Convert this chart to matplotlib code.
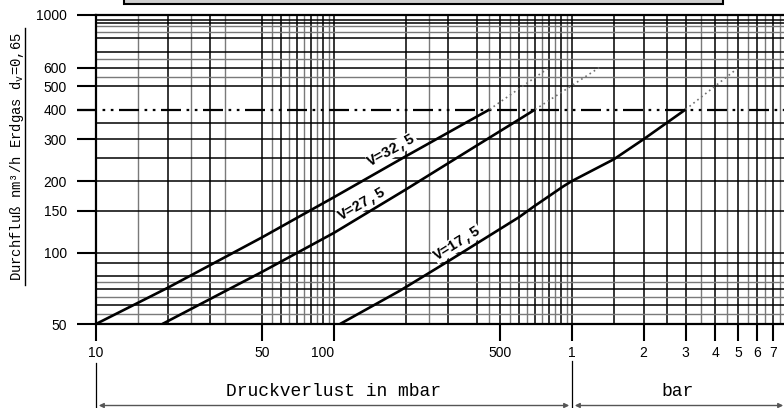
import matplotlib
matplotlib.use("Agg")
import matplotlib.pyplot as plt
from matplotlib.patches import Rectangle, FancyArrowPatch
from matplotlib.lines import Line2D
import matplotlib.transforms as mtransforms

# ---------------- data ----------------
v325_x = [10, 20, 50, 100, 200, 450]
v325_y = [50, 71, 116, 171, 254, 400]
v325_dot_x = [450, 800]
v325_dot_y = [400, 600]

v275_x = [19, 50, 100, 200, 400, 700]
v275_y = [50, 83, 121, 184, 283, 400]
v275_dot_x = [700, 1300]
v275_dot_y = [400, 600]

v175_x = [106, 189, 300, 600, 690, 920, 1000, 1500, 2000, 3000]
v175_y = [50, 69, 91.5, 141, 156, 190, 200, 247, 300, 400]
v175_dot_x = [3000, 5000]
v175_dot_y = [400, 600]

curve_labels = ["V=32,5", "V=27,5", "V=17,5"]

xtick_vals = [10, 50, 100, 500, 1000, 2000, 3000, 4000, 5000, 6000, 7000]
xtick_labels = ["10", "50", "100", "500", "1", "2", "3", "4", "5", "6", "7"]
ytick_vals = [50, 100, 150, 200, 300, 400, 500, 600, 1000]
ytick_labels = ["50", "100", "150", "200", "300", "400", "500", "600", "1000"]

grid_x_dark = [20, 30, 50, 60, 70, 80, 90, 100, 200, 300, 400, 500, 600, 700,
               800, 900, 1000, 1500, 2000, 2500, 3000, 4000, 5000, 6000, 7000]
grid_x_light = [15, 25, 35, 55, 65, 75, 85, 95, 250, 450, 550, 650, 750, 850,
                950, 3500, 4500, 5500, 6500, 7500]
grid_y_dark = [60, 70, 80, 90, 100, 150, 200, 250, 300, 350, 500, 600, 700,
               800, 925, 950]
grid_y_light = [55, 65, 75, 550, 650, 850, 900]
ref_line_y = 400

ylabel = "Durchfluß nm³/h Erdgas d$_\\mathregular{v}$=0,65"
xlabel_mbar = "Druckverlust in mbar"
xlabel_bar = "bar"

# ---------------- figure ----------------
W, H = 784, 408
fig = plt.figure(figsize=(W / 100, H / 100), dpi=100)
fig.patch.set_facecolor("white")


def px(x, y):
    return (x / W, 1 - y / H)


ax = fig.add_axes([96 / W, 1 - 324 / H, 1 - 96 / W, (324 - 15) / H])
ax.set_xscale("log")
ax.set_yscale("log")
ax.set_xlim(10, 10 ** (1 + 688 / 238))
ax.set_ylim(50, 1000)

for v in grid_x_dark:
    ax.axvline(v, color="black", lw=1.1, zorder=1)
for v in grid_x_light:
    ax.axvline(v, color="#7a7a7a", lw=1.0, zorder=1)
for v in grid_y_dark:
    ax.axhline(v, color="black", lw=1.1, zorder=1)
for v in grid_y_light:
    ax.axhline(v, color="#7a7a7a", lw=1.0, zorder=1)

# dash-dot reference line at 400 (extends over the tick area)
trans = mtransforms.blended_transform_factory(ax.transAxes, ax.transData)
ax.plot([-19 / 688, 1], [ref_line_y, ref_line_y], transform=trans, color="black",
        lw=1.6, ls=(0, (9, 2.5, 1.2, 2.5, 1.2, 2.5)), clip_on=False, zorder=2)

# curves
for xs, ys in [(v325_x, v325_y), (v275_x, v275_y), (v175_x, v175_y)]:
    ax.plot(xs, ys, color="black", lw=1.9, zorder=4, solid_capstyle="butt",
            solid_joinstyle="round")
for xs, ys in [(v325_dot_x, v325_dot_y), (v275_dot_x, v275_dot_y),
               (v175_dot_x, v175_dot_y)]:
    ax.plot(xs, ys, color="#707070", lw=1.2, ls=(0, (1, 2)), zorder=2)

label_pos = [(175, 270, 29), (131, 161, 30), (329, 109, 32)]
for txt, (lx, ly, rot) in zip(curve_labels, label_pos):
    ax.text(lx, ly, txt, rotation=rot, ha="center", va="center",
            fontsize=10.5, fontweight="bold", family=["Liberation Mono", "DejaVu Sans Mono"],
            bbox=dict(facecolor="white", edgecolor="none", pad=0.5), zorder=3)

# ticks
ax.set_xticks(xtick_vals)
ax.set_xticklabels(xtick_labels)
ax.set_yticks(ytick_vals)
ax.set_yticklabels(ytick_labels)
ax.xaxis.set_minor_locator(matplotlib.ticker.NullLocator())
ax.yaxis.set_minor_locator(matplotlib.ticker.NullLocator())
ax.tick_params(axis="x", length=12, width=1.5, pad=4, labelsize=10)
ax.tick_params(axis="y", length=14, width=1.5, pad=7, labelsize=10)
for lab in ax.get_xticklabels() + ax.get_yticklabels():
    lab.set_family(["Liberation Sans", "DejaVu Sans"])
ax.get_xticklabels()[2].set_horizontalalignment("right")

for side in ["left", "bottom", "top"]:
    ax.spines[side].set_linewidth(1.6)
    ax.spines[side].set_zorder(5)
ax.spines["right"].set_visible(False)

# y label with underline
fig.text(*px(17, 157), ylabel, rotation=90, ha="center", va="center",
         fontsize=10, family=["Liberation Mono", "DejaVu Sans Mono"])
fig.add_artist(Line2D([25 / W, 25 / W], [1 - 285 / H, 1 - 28 / H], color="black", lw=1.0))

# bottom dimension lines
fig.add_artist(Line2D([96 / W, 96 / W], [1 - 363 / H, 0], color="black", lw=0.9))
fig.add_artist(Line2D([572 / W, 572 / W], [1 - 361 / H, 0], color="black", lw=0.9))
fig.add_artist(FancyArrowPatch(px(96, 405.5), px(572, 405.5), transform=fig.transFigure,
                               arrowstyle="<|-|>", mutation_scale=7, color="#555555", lw=1.0))
fig.add_artist(FancyArrowPatch(px(572, 405.5), px(786, 405.5), transform=fig.transFigure,
                               arrowstyle="<|-|>", mutation_scale=7, color="#555555", lw=1.0))
fig.text(*px(334, 392), xlabel_mbar, ha="center", va="center", fontsize=13,
         family=["Liberation Mono", "DejaVu Sans Mono"])
fig.text(*px(678, 392), xlabel_bar, ha="center", va="center", fontsize=13,
         family=["Liberation Mono", "DejaVu Sans Mono"])

# title box (cut off at top)
fig.add_artist(Rectangle(px(124, 4), (723 - 124) / W, 20 / H, transform=fig.transFigure,
                         facecolor="#cfcfcf", edgecolor="black", lw=1.5))

fig.savefig("out.png", dpi=100)
